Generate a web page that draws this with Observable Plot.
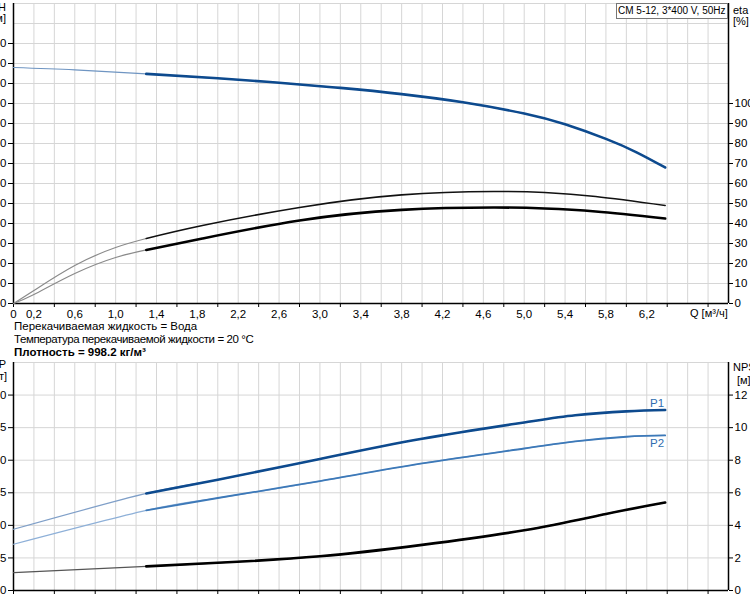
<!DOCTYPE html>
<html><head><meta charset="utf-8">
<script src="https://cdn.jsdelivr.net/npm/d3@7"></script>
<script src="https://cdn.jsdelivr.net/npm/@observablehq/plot@0.6"></script>
<style>
html,body{margin:0;padding:0;background:#fff;}
body{width:750px;height:600px;overflow:hidden;position:relative;font-family:"Liberation Sans",Arial,sans-serif;font-size:11px;color:#000;}
.abs{position:absolute;white-space:nowrap;line-height:1;}
.r{text-align:right;}
#topChart,#botChart{position:absolute;left:0;}
#topChart{top:0;} #botChart{top:355px;}
#title{position:absolute;left:616px;top:3px;width:109px;height:14px;border:1px solid #777;background:#fff;font-size:10px;line-height:14px;padding-left:1px;white-space:nowrap;overflow:hidden;}
.note{font-size:11.5px;}
</style></head><body>
<div id="topChart"></div><div id="botChart"></div>
<div id="title">CM 5-12, 3*400 V, 50Hz</div>
<div class="abs r" style="right:744px;top:2px;">H</div>
<div class="abs r" style="right:744px;top:13px;">[м]</div>
<div class="abs" style="left:733px;top:5px;">eta</div>
<div class="abs" style="left:733px;top:16px;">[%]</div>
<div class="abs" style="left:690px;top:308px;">Q [м³/ч]</div>
<div class="abs note" style="left:14px;top:321px;">Перекачиваемая жидкость = Вода</div>
<div class="abs note" style="left:14px;top:334px;letter-spacing:-0.4px;">Температура перекачиваемой жидкости = 20 °C</div>
<div class="abs note" style="left:14px;top:347px;font-weight:bold;">Плотность = 998.2 кг/м³</div>
<div class="abs r" style="right:744px;top:359px;">P</div>
<div class="abs r" style="right:743px;top:371px;">[кВт]</div>
<div class="abs" style="left:733px;top:362px;">NPSH</div>
<div class="abs" style="left:737px;top:375px;">[м]</div>
<script>
// ---- data ----
const qH = [0, 0.6, 1.3, 2.0, 2.6, 3.2, 3.8, 4.4, 5.0, 5.4, 5.8, 6.1, 6.38];
const headM = [118.0, 116.8, 114.8, 112.6, 110.4, 107.8, 104.7, 100.6, 95.0, 89.6, 82.3, 75.6, 68.0];
const qEta = [0, 0.2, 0.6, 1.0, 1.3, 1.85, 2.8, 3.8, 4.7, 5.2, 5.7, 6.38];
const etaPump = [0, 6.5, 19, 28, 32.5, 39, 48, 54.3, 56, 55.5, 53.5, 49];
const etaTotal = [0, 4.5, 15, 23, 26.8, 32.5, 41.5, 46.8, 48, 47.5, 46, 42.5];
const qP = [0, 1.3, 2.0, 3.0, 4.0, 5.0, 5.5, 6.0, 6.38];
const p1kW = [0.94, 1.49, 1.70, 2.02, 2.33, 2.58, 2.69, 2.75, 2.77];
const p2kW = [0.71, 1.23, 1.42, 1.68, 1.95, 2.18, 2.29, 2.36, 2.38];
const qN = [0, 1.3, 2.0, 3.0, 4.0, 5.0, 5.8, 6.38];
const npshM = [1.1, 1.48, 1.7, 2.1, 2.8, 3.7, 4.7, 5.4];
const qLabelTicks = [0, 0.2, 0.6, 1.0, 1.4, 1.8, 2.2, 2.6, 3.0, 3.4, 3.8, 4.2, 4.6, 5.0, 5.4, 5.8, 6.2];
const qMarkTicks = [0, 0.4, 0.8, 1.2, 1.6, 2.0, 2.4, 2.8, 3.2, 3.6, 4.0, 4.4, 4.8, 5.2, 5.6, 6.0, 6.4, 6.8];
const hTicks = [0, 10, 20, 30, 40, 50, 60, 70, 80, 90, 100, 110, 120, 130];
const etaTicks = [0, 10, 20, 30, 40, 50, 60, 70, 80, 90, 100];
const pTicks = [0, 0.5, 1.0, 1.5, 2.0, 2.5, 3.0];
const npshTicks = [0, 2, 4, 6, 8, 10, 12];
const lowFlowEnd = 1.3;

const qGrid = d3.range(0, 36).map(i => +(i * 0.2).toFixed(1));
const comma = d => d === 0 ? "0" : d.toFixed(1).replace(".", ",");
const rows = (qs, vs) => qs.map((q, i) => ({q, v: vs[i]}));
const low = a => a.filter(d => d.q <= lowFlowEnd);
const high = a => a.filter(d => d.q >= lowFlowEnd);
const pStyle = {fontFamily: "Liberation Sans, Arial, sans-serif", fontSize: "11.5px", color: "#000", background: "transparent", overflow: "visible"};
const gridC = "#d6d6d6";
const dark = "#0d4a8e", mid = "#3d79b8";
const C = "natural";

const H = rows(qH, headM), E1 = rows(qEta, etaPump), E2 = rows(qEta, etaTotal);
const topPlot = Plot.plot({
  width: 750, height: 330, marginLeft: 13, marginRight: 22, marginTop: 3, marginBottom: 27,
  style: pStyle,
  x: {domain: [0, 7], axis: null},
  y: {domain: [0, 150], axis: null},
  marks: [
    Plot.gridX(qGrid, {stroke: gridC, strokeOpacity: 1}),
    Plot.gridY(d3.range(0, 151, 10), {stroke: gridC, strokeOpacity: 1}),
    Plot.axisX(qMarkTicks, {tickSize: 4, tickFormat: () => "", label: null}),
    Plot.axisX(qLabelTicks, {tickSize: 0, tickPadding: 6, tickFormat: comma, label: null}),
    Plot.axisY(hTicks, {anchor: "left", tickSize: 5, tickPadding: 2, label: null}),
    Plot.axisY(etaTicks, {anchor: "right", tickSize: 4, tickPadding: 2, label: null}),
    Plot.ruleX([0, 7], {stroke: "#000", strokeWidth: 1.5}),
    Plot.ruleY([0], {stroke: "#000", strokeWidth: 1.5}),
    Plot.line(H, {x: "q", y: "v", stroke: "#6f95c2", strokeWidth: 1.2, curve: C}),
    Plot.line(high(H), {x: "q", y: "v", stroke: dark, strokeWidth: 2.6, curve: C}),
    Plot.line(low(E1), {x: "q", y: "v", stroke: "#8a8a8a", strokeWidth: 1.2, curve: C}),
    Plot.line(low(E2), {x: "q", y: "v", stroke: "#8a8a8a", strokeWidth: 1.2, curve: C}),
    Plot.line(high(E1), {x: "q", y: "v", stroke: "#111", strokeWidth: 1.6, curve: C}),
    Plot.line(high(E2), {x: "q", y: "v", stroke: "#000", strokeWidth: 2.6, curve: C})
  ]
});
document.getElementById("topChart").append(topPlot);

const P1 = rows(qP, p1kW), P2 = rows(qP, p2kW);
const N = rows(qN, npshM.map(v => v / 4));
const botPlot = Plot.plot({
  width: 750, height: 250, marginLeft: 13, marginRight: 22, marginTop: 7, marginBottom: 15,
  style: pStyle,
  x: {domain: [0, 7], axis: null},
  y: {domain: [0, 3.5], axis: null},
  marks: [
    Plot.gridX(qGrid, {stroke: gridC, strokeOpacity: 1}),
    Plot.gridY(pTicks.concat([3.5]), {stroke: gridC, strokeOpacity: 1}),
    Plot.axisX(qMarkTicks, {tickSize: 4, tickFormat: () => "", label: null}),
    Plot.axisY(pTicks, {anchor: "left", tickSize: 5, tickPadding: 2, tickFormat: comma, label: null}),
    Plot.axisY(npshTicks.map(v => v / 4), {anchor: "right", tickSize: 4, tickPadding: 2, tickFormat: d => String(Math.round(d * 4)), label: null}),
    Plot.ruleX([0, 7], {stroke: "#000", strokeWidth: 1.5}),
    Plot.ruleY([0], {stroke: "#000", strokeWidth: 1.5}),
    Plot.line(P1, {x: "q", y: "v", stroke: "#7f9fc8", strokeWidth: 1.2, curve: C}),
    Plot.line(P2, {x: "q", y: "v", stroke: "#8eb0d8", strokeWidth: 1.2, curve: C}),
    Plot.line(N, {x: "q", y: "v", stroke: "#555", strokeWidth: 1.2, curve: C}),
    Plot.line(high(P1), {x: "q", y: "v", stroke: dark, strokeWidth: 2.6, curve: C}),
    Plot.line(high(P2), {x: "q", y: "v", stroke: mid, strokeWidth: 1.8, curve: C}),
    Plot.line(high(N), {x: "q", y: "v", stroke: "#000", strokeWidth: 2.6, curve: C}),
    Plot.text(P1.slice(-1), {x: "q", y: "v", text: () => "P1", textAnchor: "end", dx: -1, dy: -7, fill: "#2f6db0"}),
    Plot.text(P2.slice(-1), {x: "q", y: "v", text: () => "P2", textAnchor: "end", dx: -1, dy: 8, fill: "#2f6db0"})
  ]
});
document.getElementById("botChart").append(botPlot);
</script>
</body></html>
